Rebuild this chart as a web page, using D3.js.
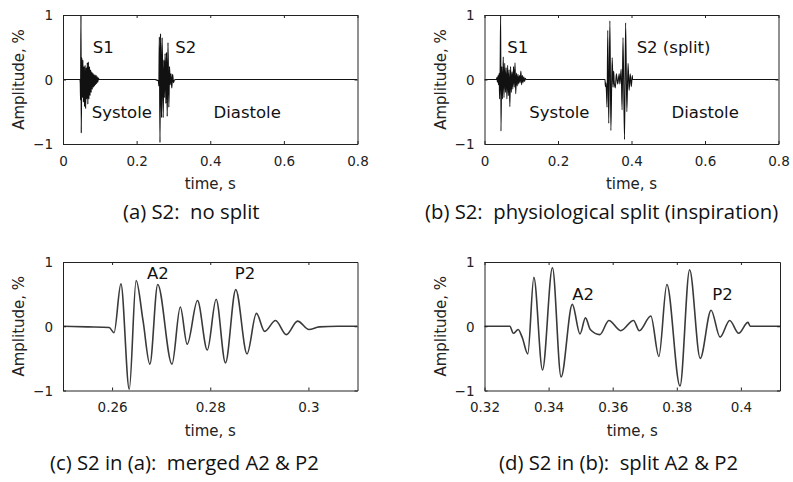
<!DOCTYPE html>
<html>
<head>
<meta charset="utf-8">
<script src="https://cdn.jsdelivr.net/npm/d3@7"></script>
<style>
  html, body { margin: 0; padding: 0; background: #fff; }
  svg { display: block; }
  .tick-label { font-family: "DejaVu Sans", Verdana, sans-serif; font-size: 13.5px; fill: #222; }
  .axis-title { font-family: "DejaVu Sans", Verdana, sans-serif; font-size: 15px; fill: #222; }
  .note { font-family: "DejaVu Sans", Verdana, sans-serif; font-size: 16.5px; fill: #111; }
  .caption { font-family: "Open Sans", "Noto Sans", sans-serif; font-size: 17px; fill: #111; white-space: pre; }
</style>
</head>
<body>
<svg id="chart" width="793" height="482"></svg>
<script>
// S1 burst, no-split recording: [time s, amplitude %] at successive extrema
const s1NoSplit = [
  [0.0460, 0], [0.0470, -0.05], [0.0478, -0.32], [0.0488, 1.0], [0.0496, -0.83],
  [0.0510, 0.34], [0.0525, -0.28], [0.0540, 0.30], [0.0555, -0.35], [0.0570, 0.20],
  [0.0585, -0.42], [0.0600, 0.22], [0.0615, -0.45], [0.0630, 0.18], [0.0645, -0.30],
  [0.0660, 0.26], [0.0675, -0.38], [0.0690, 0.27], [0.0705, -0.30], [0.0720, 0.20],
  [0.0735, -0.25], [0.0750, 0.15], [0.0765, -0.20], [0.0780, 0.12], [0.0795, -0.15],
  [0.0810, 0.10], [0.0825, -0.12], [0.0840, 0.08], [0.0855, -0.10], [0.0870, 0.07],
  [0.0885, -0.08], [0.0900, 0.06], [0.0915, -0.06], [0.0930, 0.04], [0.0945, -0.04],
  [0.0960, 0.02], [0.0980, 0]
];

// S2 with merged A2 & P2 (also the S2 burst of the no-split recording)
const s2Merged = [
  [0.2500, 0], [0.2550, -0.01], [0.2594, -0.02], [0.2604, -0.10], [0.2618, 0.66],
  [0.2635, -0.98], [0.2649, 0.71], [0.2663, 0.09], [0.2677, -0.59], [0.2693, 0.65],
  [0.2722, -0.59], [0.2739, 0.30], [0.2753, -0.28], [0.2774, 0.40], [0.2794, -0.37],
  [0.2812, 0.42], [0.2831, -0.57], [0.2852, 0.57], [0.2875, -0.43], [0.2894, 0.20],
  [0.2911, -0.08], [0.2933, 0.09], [0.2955, -0.13], [0.2978, 0.08], [0.3001, -0.05],
  [0.3022, -0.01], [0.3060, 0], [0.3100, 0]
];

// S1 burst, inspiration recording
const s1Split = [
  [0.0320, 0], [0.0340, 0.03], [0.0350, -0.04], [0.0370, 0.06], [0.0380, -0.08],
  [0.0400, 0.10], [0.0410, -0.30], [0.0425, 0.12], [0.0440, 1.0], [0.0448, -0.80],
  [0.0470, 0.20], [0.0490, -0.30], [0.0510, 0.35], [0.0530, -0.28], [0.0550, 0.25],
  [0.0570, -0.20], [0.0590, 0.18], [0.0610, -0.30], [0.0630, 0.22], [0.0650, -0.25],
  [0.0670, 0.15], [0.0690, -0.42], [0.0710, 0.20], [0.0730, -0.20], [0.0750, 0.12],
  [0.0770, -0.15], [0.0790, 0.20], [0.0810, -0.12], [0.0830, 0.26], [0.0850, -0.22],
  [0.0870, 0.10], [0.0890, -0.10], [0.0910, 0.08], [0.0930, -0.07], [0.0950, 0.06],
  [0.0970, -0.05], [0.0990, 0.13], [0.1010, -0.08], [0.1030, 0.06], [0.1050, -0.05],
  [0.1070, 0.04], [0.1090, -0.03], [0.1110, 0.02], [0.1130, 0]
];

// S2 with split A2 & P2 (also the S2 burst of the inspiration recording)
const s2Split = [
  [0.3200, 0], [0.3279, 0], [0.3290, -0.11], [0.3305, -0.05], [0.3318, -0.18],
  [0.3335, -0.43], [0.3354, 0.76], [0.3381, -0.68], [0.3412, 0.91], [0.3439, -0.79],
  [0.3474, 0.34], [0.3498, -0.12], [0.3515, 0.13], [0.3530, -0.05], [0.3560, -0.13],
  [0.3588, 0.09], [0.3625, -0.07], [0.3665, 0.09], [0.3683, -0.07], [0.3719, 0.16],
  [0.3744, -0.47], [0.3769, 0.65], [0.3810, -0.93], [0.3840, 0.88], [0.3873, -0.50],
  [0.3907, 0.25], [0.3935, -0.17], [0.3965, 0.09], [0.3993, -0.11], [0.4022, 0.06],
  [0.4029, 0], [0.4122, 0]
];

const yTicks = [-1, 0, 1];
const xTicksFull = [0, 0.2, 0.4, 0.6, 0.8];
const xTicksMerged = [0.26, 0.28, 0.3];
const xTicksSplit = [0.32, 0.34, 0.36, 0.38, 0.4];

const captions = [
  "(a) S2:  no split",
  "(b) S2:  physiological split (inspiration)",
  "(c) S2 in (a):  merged A2 & P2",
  "(d) S2 in (b):  split A2 & P2"
];

const svg = d3.select("#chart");

const panels = [
  {
    id: "a", box: [63, 357.5, 15, 144], domain: [0, 0.8], ticks: xTicksFull,
    data: [[0, 0], ...s1NoSplit, ...s2Merged, [0.8, 0]], stroke: "#111", width: 1.2,
    notes: [["S1", 0.0808, 0.415], ["S2", 0.3048, 0.415], ["Systole", 0.0781, -0.60], ["Diastole", 0.409, -0.60]],
    caption: { text: captions[0], x: 123, y: 219, width: 140 }
  },
  {
    id: "b", box: [484.5, 778.5, 15, 144], domain: [0, 0.8], ticks: xTicksFull,
    data: [[0, 0], ...s1Split, ...s2Split, [0.8, 0]], stroke: "#111", width: 1.1,
    notes: [["S1", 0.062, 0.415], ["S2 (split)", 0.414, 0.415], ["Systole", 0.122, -0.60], ["Diastole", 0.509, -0.60]],
    caption: { text: captions[1], x: 425, y: 219, width: 345 }
  },
  {
    id: "c", box: [63, 357.5, 262, 390.5], domain: [0.25, 0.31], ticks: xTicksMerged,
    data: s2Merged, stroke: "#3a3a3a", width: 1.6,
    notes: [["A2", 0.2671, 0.73], ["P2", 0.2850, 0.73]],
    caption: { text: captions[2], x: 50, y: 470, width: 254 }
  },
  {
    id: "d", box: [484.5, 780, 262, 390.5], domain: [0.32, 0.4122], ticks: xTicksSplit,
    data: s2Split, stroke: "#3a3a3a", width: 1.6,
    notes: [["A2", 0.3474, 0.41], ["P2", 0.3911, 0.41]],
    caption: { text: captions[3], x: 499, y: 470, width: 254 }
  }
];

const fmt = d3.format("~g");
const tickLen = 3;
const captionNodes = [];

panels.forEach(p => {
  const [left, right, top, bottom] = p.box;
  const x = d3.scaleLinear().domain(p.domain).range([left, right]);
  const y = d3.scaleLinear().domain([-1, 1]).range([bottom, top]);
  const g = svg.append("g").attr("class", "panel-" + p.id);

  g.append("clipPath").attr("id", "clip-" + p.id)
    .append("rect").attr("x", left).attr("y", top)
    .attr("width", right - left).attr("height", bottom - top);

  // signal trace
  g.append("path")
    .datum(p.data)
    .attr("clip-path", "url(#clip-" + p.id + ")")
    .attr("fill", "none")
    .attr("stroke", p.stroke)
    .attr("stroke-width", p.width)
    .attr("stroke-linejoin", "round")
    .attr("d", d3.line().x(d => x(d[0])).y(d => y(d[1])).curve(d3.curveMonotoneX));

  // axes: inward ticks on all four sides, labels on bottom and left
  const bottomAxis = d3.axisBottom(x).tickValues(p.ticks).tickSizeInner(-tickLen).tickSizeOuter(0).tickFormat(fmt);
  const topAxis = d3.axisTop(x).tickValues(p.ticks).tickSizeInner(-tickLen).tickSizeOuter(0).tickFormat("");
  const leftAxis = d3.axisLeft(y).tickValues(yTicks).tickSizeInner(-tickLen).tickSizeOuter(0).tickFormat(fmt).tickPadding(10);
  const rightAxis = d3.axisRight(y).tickValues(yTicks).tickSizeInner(-tickLen).tickSizeOuter(0).tickFormat("");

  const styleAxis = sel => {
    sel.attr("font-family", null).attr("font-size", null);
    sel.select(".domain").attr("stroke", "#222").attr("stroke-width", 1);
    sel.selectAll(".tick line").attr("stroke", "#222");
    sel.selectAll(".tick text").attr("class", "tick-label");
  };
  g.append("g").attr("transform", `translate(0,${bottom})`).call(bottomAxis).call(styleAxis)
    .selectAll(".tick text").attr("dy", "0.71em").attr("y", 12);
  g.append("g").attr("transform", `translate(0,${top})`).call(topAxis).call(styleAxis);
  g.append("g").attr("transform", `translate(${left},0)`).call(leftAxis).call(styleAxis)
    .selectAll(".tick text").attr("dy", "0.36em");
  g.append("g").attr("transform", `translate(${right},0)`).call(rightAxis).call(styleAxis);

  // axis titles
  g.append("text").attr("class", "axis-title")
    .attr("x", (left + right) / 2).attr("y", bottom + 45)
    .attr("text-anchor", "middle").text("time, s");
  g.append("text").attr("class", "axis-title")
    .attr("transform", `translate(${left - 39},${(top + bottom) / 2}) rotate(-90)`)
    .attr("text-anchor", "middle").text("Amplitude, %");

  // annotations placed in data coordinates
  g.selectAll("text.note").data(p.notes).join("text")
    .attr("class", "note")
    .attr("x", d => x(d[1])).attr("y", d => y(d[2]))
    .text(d => d[0]);

  // sub-figure caption
  const cap = svg.append("text").attr("class", "caption")
    .attr("x", p.caption.x).attr("y", p.caption.y)
    .text(p.caption.text);
  captionNodes.push({ node: cap, width: p.caption.width });
});

// one shared caption size, chosen so the lines span their slots on average
const fitted = captionNodes
  .map(c => { const n = c.node.node().getComputedTextLength(); return n > 0 ? 17 * c.width / n : 17; });
const captionSize = d3.median(fitted);
captionNodes.forEach(c => c.node.style("font-size", captionSize.toFixed(2) + "px"));
</script>
</body>
</html>
